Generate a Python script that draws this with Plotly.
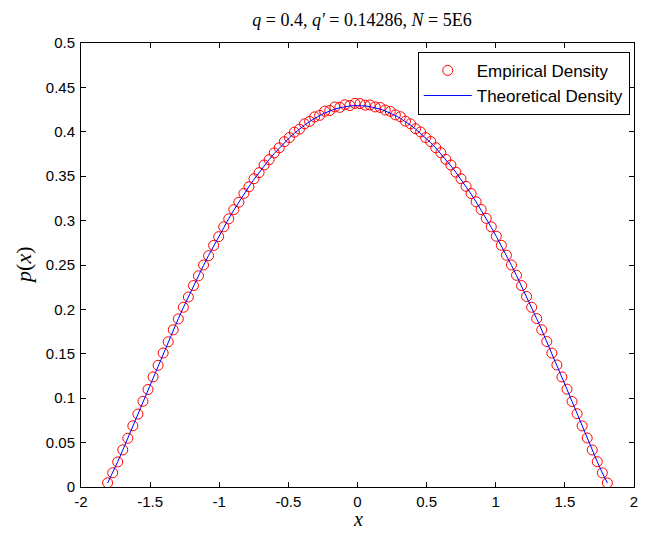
import plotly.graph_objects as go

# bin centres of the histogram
x_pos = [0.0183, 0.0548, 0.0913, 0.1278, 0.1643, 0.2008, 0.2373, 0.2739, 0.3104, 0.3469,
         0.3834, 0.4199, 0.4564, 0.4929, 0.5295, 0.5660, 0.6025, 0.6390, 0.6755, 0.7120,
         0.7485, 0.7851, 0.8216, 0.8581, 0.8946, 0.9311, 0.9676, 1.0041, 1.0407, 1.0772,
         1.1137, 1.1502, 1.1867, 1.2232, 1.2597, 1.2963, 1.3328, 1.3693, 1.4058, 1.4423,
         1.4788, 1.5153, 1.5519, 1.5884, 1.6249, 1.6614, 1.6979, 1.7344, 1.7709, 1.8075]
x_neg = [-1.8075, -1.7709, -1.7344, -1.6979, -1.6614, -1.6249, -1.5884, -1.5519, -1.5153, -1.4788,
         -1.4423, -1.4058, -1.3693, -1.3328, -1.2963, -1.2597, -1.2232, -1.1867, -1.1502, -1.1137,
         -1.0772, -1.0407, -1.0041, -0.9676, -0.9311, -0.8946, -0.8581, -0.8216, -0.7851, -0.7485,
         -0.7120, -0.6755, -0.6390, -0.6025, -0.5660, -0.5295, -0.4929, -0.4564, -0.4199, -0.3834,
         -0.3469, -0.3104, -0.2739, -0.2373, -0.2008, -0.1643, -0.1278, -0.0913, -0.0548, -0.0183]

emp_neg = [0.0047, 0.0160, 0.0282, 0.0418, 0.0549, 0.0689, 0.0821, 0.0965, 0.1098, 0.1240,
           0.1370, 0.1509, 0.1635, 0.1770, 0.1893, 0.2024, 0.2140, 0.2268, 0.2378, 0.2500,
           0.2605, 0.2720, 0.2819, 0.2930, 0.3020, 0.3124, 0.3207, 0.3306, 0.3381, 0.3472,
           0.3540, 0.3626, 0.3686, 0.3762, 0.3820, 0.3888, 0.3935, 0.3996, 0.4030, 0.4090,
           0.4117, 0.4168, 0.4185, 0.4232, 0.4240, 0.4280, 0.4275, 0.4305, 0.4296, 0.4320]
emp_pos = [0.4318, 0.4300, 0.4302, 0.4280, 0.4274, 0.4245, 0.4230, 0.4190, 0.4170, 0.4120,
           0.4090, 0.4035, 0.3998, 0.3935, 0.3890, 0.3820, 0.3765, 0.3690, 0.3626, 0.3545,
           0.3472, 0.3386, 0.3305, 0.3212, 0.3125, 0.3025, 0.2930, 0.2824, 0.2722, 0.2610,
           0.2500, 0.2384, 0.2268, 0.2145, 0.2024, 0.1897, 0.1770, 0.1638, 0.1508, 0.1374,
           0.1239, 0.1102, 0.0963, 0.0825, 0.0688, 0.0552, 0.0417, 0.0285, 0.0159, 0.0046]

theo_neg = [0.0045, 0.0158, 0.0284, 0.0416, 0.0551, 0.0687, 0.0825, 0.0963, 0.1100, 0.1237,
            0.1372, 0.1506, 0.1637, 0.1767, 0.1895, 0.2021, 0.2143, 0.2264, 0.2381, 0.2496,
            0.2608, 0.2716, 0.2822, 0.2924, 0.3023, 0.3118, 0.3210, 0.3299, 0.3384, 0.3465,
            0.3543, 0.3617, 0.3688, 0.3755, 0.3818, 0.3877, 0.3932, 0.3984, 0.4032, 0.4075,
            0.4115, 0.4151, 0.4183, 0.4211, 0.4235, 0.4255, 0.4271, 0.4283, 0.4291, 0.4295]
theo_pos = [0.4295, 0.4291, 0.4283, 0.4271, 0.4255, 0.4235, 0.4211, 0.4183, 0.4151, 0.4115,
            0.4075, 0.4032, 0.3984, 0.3932, 0.3877, 0.3818, 0.3755, 0.3688, 0.3617, 0.3543,
            0.3465, 0.3384, 0.3299, 0.3210, 0.3118, 0.3023, 0.2924, 0.2822, 0.2716, 0.2608,
            0.2496, 0.2381, 0.2264, 0.2143, 0.2021, 0.1895, 0.1767, 0.1637, 0.1506, 0.1372,
            0.1237, 0.1100, 0.0963, 0.0825, 0.0687, 0.0551, 0.0416, 0.0284, 0.0158, 0.0045]

x_ticks = [-2, -1.5, -1, -0.5, 0, 0.5, 1, 1.5, 2]
y_ticks = [0, 0.05, 0.1, 0.15, 0.2, 0.25, 0.3, 0.35, 0.4, 0.45, 0.5]

xs = x_neg + x_pos

fig = go.Figure()
fig.add_trace(go.Scatter(x=xs, y=emp_neg + emp_pos, mode='markers', name='Empirical Density',
                         marker=dict(symbol='circle-open', size=10, color='red',
                                     line=dict(width=1, color='red'))))
fig.add_trace(go.Scatter(x=xs, y=theo_neg + theo_pos, mode='lines', name='Theoretical Density',
                         line=dict(color='blue', width=1)))

serif = 'Liberation Serif, Times New Roman, serif'
sans = 'Liberation Sans, Arial, sans-serif'

axis_style = dict(showline=True, linecolor='black', linewidth=1, mirror='allticks',
                  ticks='inside', ticklen=5, tickcolor='black', showgrid=False,
                  zeroline=False, automargin=False, ticklabeloverflow='allow',
                  tickfont=dict(family=sans, size=15, color='black'))

fig.update_xaxes(range=[-2, 2], tickvals=x_ticks, ticktext=[str(t) for t in x_ticks],
                 ticklabelstandoff=1, **axis_style)
fig.update_yaxes(range=[0, 0.5], tickvals=y_ticks, ticktext=[f'{t:g}' for t in y_ticks],
                 ticklabelstandoff=2, **axis_style)

# the page body has an 8px margin on every side, so keep the figure inside the window
fig.update_layout(
    width=631, height=523,
    margin=dict(l=73, r=5, t=35, b=44),
    plot_bgcolor='white', paper_bgcolor='white',
    title=dict(text='<i>q</i> = 0.4, <i>q\u2032</i> = 0.14286, <i>N</i> = 5E6',
               font=dict(family=serif, size=18, color='black'),
               x=0.561, xanchor='center', y=0.977, yanchor='middle'),
    legend=dict(x=0.609, y=0.98, xanchor='left', yanchor='top', bgcolor='white',
                bordercolor='black', borderwidth=1,
                font=dict(family=sans, size=17, color='black'),
                tracegroupgap=0, itemwidth=48),
    showlegend=True,
    annotations=[
        dict(text='<i>x</i>', xref='paper', yref='paper', x=0.5, y=-0.098,
             xanchor='center', yanchor='bottom', showarrow=False, borderpad=0,
             font=dict(family=serif, size=20, color='black')),
        dict(text='<i>p</i>(<i>x</i>)', xref='paper', yref='paper', x=-0.105, y=0.5,
             xanchor='center', yanchor='middle', showarrow=False, textangle=-90,
             font=dict(family=serif, size=22, color='black')),
    ],
)

fig.write_html("out.html")
